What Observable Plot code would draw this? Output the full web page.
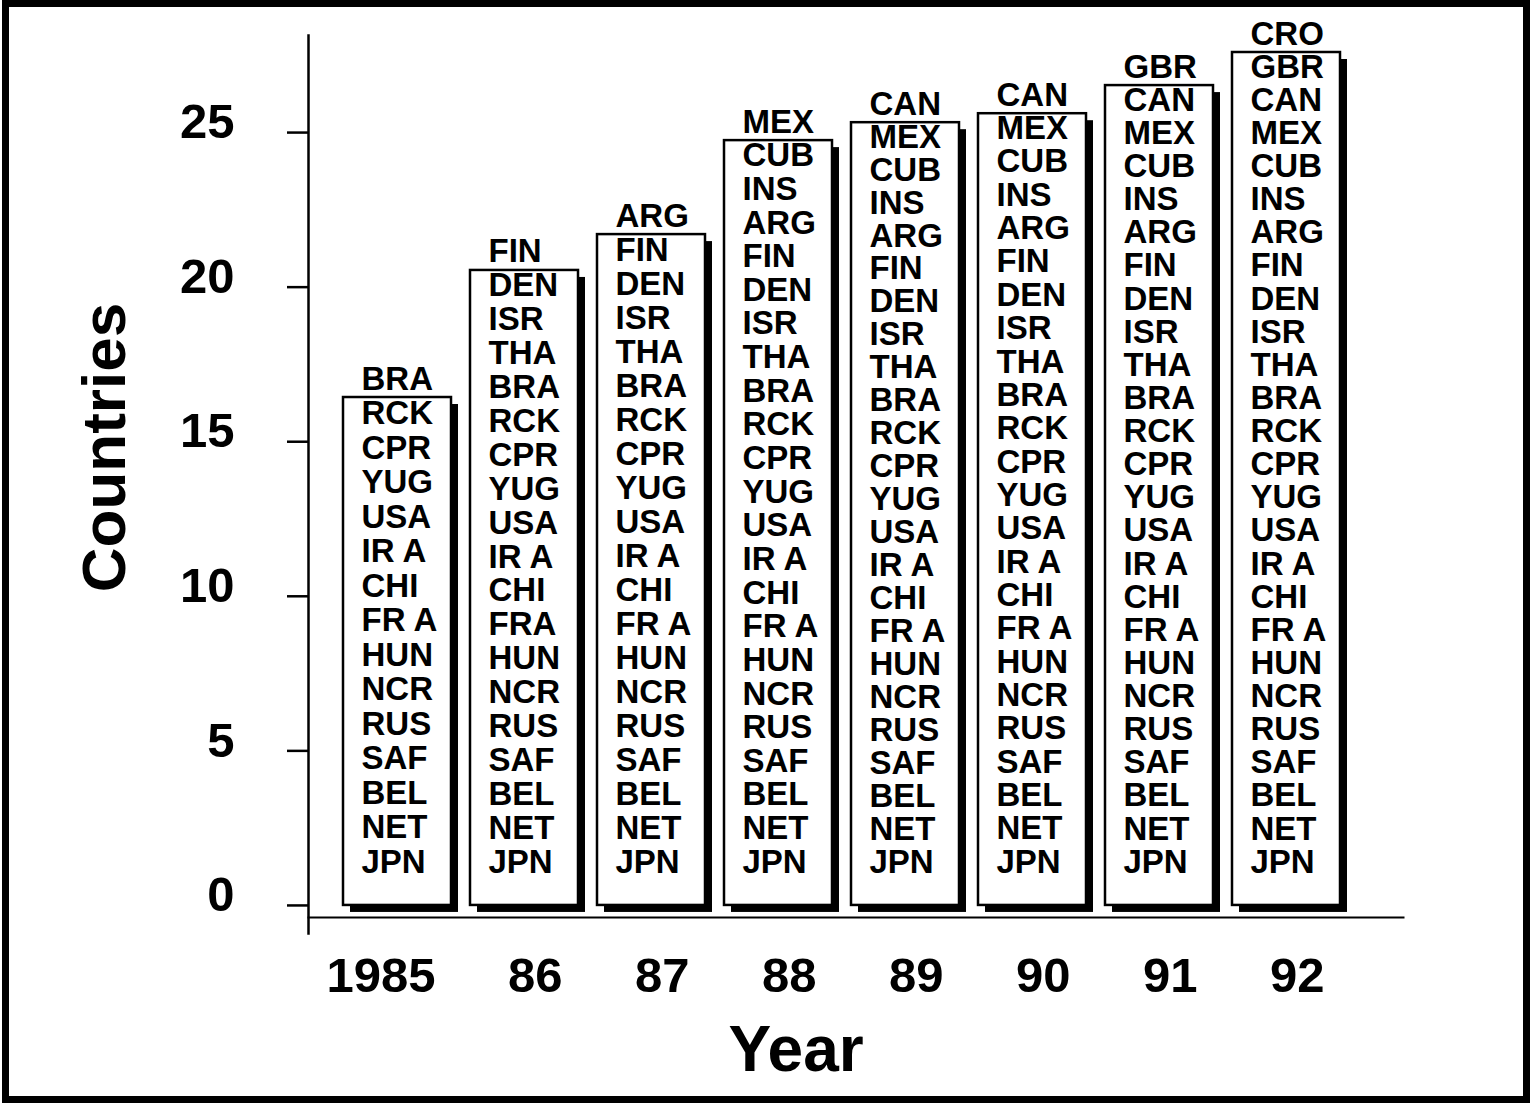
<!DOCTYPE html>
<html>
<head>
<meta charset="utf-8">
<script src="https://cdn.jsdelivr.net/npm/d3@7"></script>
<script src="https://cdn.jsdelivr.net/npm/@observablehq/plot@0.6"></script>
<style>
  html, body { margin: 0; padding: 0; background: #fff; }
  #wrap { position: relative; width: 1535px; height: 1106px; overflow: hidden; }
  #border { position: absolute; left: 2px; top: 0px; width: 1528px; height: 1103px; border: 7px solid #000; box-sizing: border-box; pointer-events: none; }
  #chart { position: absolute; left: 0; top: 0; }
</style>
</head>
<body>
<div id="wrap"><div id="chart"></div><div id="border"></div></div>
<script>
// ---- data ----
const years = [1985, 1986, 1987, 1988, 1989, 1990, 1991, 1992];
const yearTickLabels = ["1985", "86", "87", "88", "89", "90", "91", "92"];
const barHeights = [16.43, 20.54, 21.70, 24.74, 25.32, 25.61, 26.52, 27.59];
// countries in stacking order, bottom to top
const countryOrder = ["JPN", "NET", "BEL", "SAF", "RUS", "NCR", "HUN", "FR A", "CHI", "IR A",
  "USA", "YUG", "CPR", "RCK", "BRA", "THA", "ISR", "DEN", "FIN", "ARG", "INS", "CUB", "MEX",
  "CAN", "GBR", "CRO"];
// number of countries listed in each year
const countryCounts = [15, 19, 20, 23, 24, 24, 25, 26];
// spelling variants as printed in a given year
const spellingVariants = { 1986: { "FR A": "FRA" } };
const yTicks = [0, 5, 10, 15, 20, 25];

// ---- tables built from the arrays ----
const bars = years.map((year, i) => ({ year, height: barHeights[i] }));
const labelBottom = 1.4, labelTopOver = 0.6;
const labels = [];
years.forEach((year, i) => {
  const n = countryCounts[i];
  const step = (barHeights[i] + labelTopOver - labelBottom) / (n - 1);
  countryOrder.slice(0, n).forEach((c, k) => {
    const v = spellingVariants[year] && spellingVariants[year][c];
    labels.push({ year, code: v || c, pos: labelBottom + k * step });
  });
});

const font = "'Liberation Sans', Arial, Helvetica, sans-serif";

const chart = Plot.plot({
  width: 1535,
  height: 1106,
  marginLeft: 308,
  marginRight: 132,
  marginTop: 35,
  marginBottom: 189,
  style: { fontFamily: font, background: "white", color: "black" },
  x: { type: "band", domain: years, paddingInner: 0.15, paddingOuter: 0.383, align: 0.36, label: null },
  y: { domain: [-0.39, 28.14], label: null },
  marks: [
    // drop shadow
    Plot.barY(bars, { x: "year", y: "height", fill: "black", dx: 7, dy: 7 }),
    // bar box
    Plot.barY(bars, { x: "year", y: "height", fill: "white", stroke: "black", strokeWidth: 2.5 }),
    // country labels
    Plot.text(labels, {
      x: "year", y: "pos", text: "code",
      textAnchor: "start", dx: -36, lineAnchor: "middle",
      fontSize: 33, fontWeight: "bold", fill: "black"
    }),
    // axis lines
    Plot.frame({ anchor: "left", stroke: "black", strokeWidth: 2.5, insetBottom: -16 }),
    Plot.frame({ anchor: "bottom", stroke: "black", strokeWidth: 2 }),
    // y ticks (marks only)
    Plot.axisY(yTicks, { tickSize: 21, strokeWidth: 2.5, tickFormat: () => "", label: null }),
    // y tick labels
    Plot.axisY(yTicks, {
      tickSize: 0, tickPadding: 74,
      fontSize: 49, fontWeight: "bold", dy: -10, label: null
    }),
    Plot.axisX({
      tickSize: 0, tickPadding: 40, dx: 38, textAnchor: "end",
      tickFormat: d => yearTickLabels[years.indexOf(d)],
      fontSize: 49, fontWeight: "bold", label: null
    }),
    // axis titles
    Plot.text(["Countries"], {
      text: d => d, frameAnchor: "left", rotate: -90, dx: -203, dy: -29,
      textAnchor: "middle", lineAnchor: "middle",
      fontSize: 62, fontWeight: "bold", fill: "black"
    }),
    Plot.text(["Year"], {
      text: d => d, frameAnchor: "bottom", dx: -60, dy: 133,
      textAnchor: "middle", lineAnchor: "middle",
      fontSize: 64, fontWeight: "bold", fill: "black"
    })
  ]
});
document.getElementById("chart").appendChild(chart);
</script>
</body>
</html>
